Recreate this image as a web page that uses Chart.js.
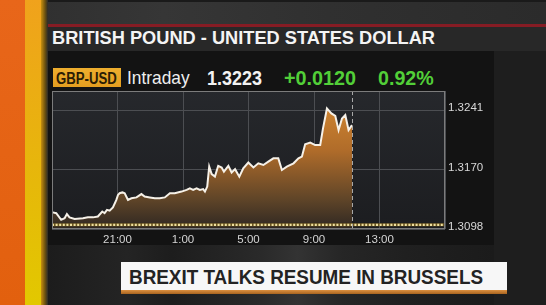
<!DOCTYPE html>
<html>
<head>
<meta charset="utf-8">
<script src="https://cdn.jsdelivr.net/npm/chart.js@4.4.1/dist/chart.umd.min.js"></script>
<style>
  html, body { margin:0; padding:0; }
  body { width:546px; height:305px; overflow:hidden; position:relative; background:#1b1b1b; font-family:"Liberation Sans", Arial, sans-serif; }
  .abs { position:absolute; }
  .txt { position:absolute; white-space:nowrap; line-height:1; transform-origin:0 0; }
  #chartWrap { position:absolute; left:0; top:0; width:546px; height:305px; z-index:5; }
</style>
</head>
<body>
<!-- backgrounds -->
<div class="abs" style="left:0;top:0;width:546px;height:25px;background:linear-gradient(90deg,#2e2e2e 0%,#363636 30%,#303030 60%,#2b2b2b 100%);"></div>
<div class="abs" style="left:0;top:0;width:546px;height:2px;background:#1a1a1a;"></div>
<div class="abs" style="left:47px;top:24px;width:499px;height:3px;background:#861c24;"></div>
<div class="abs" style="left:47px;top:27px;width:499px;height:24px;background:#282828;"></div>
<div class="abs" style="left:47px;top:51px;width:447px;height:194px;background:#131313;"></div>
<div class="abs" style="left:494px;top:51px;width:52px;height:254px;background:#1e1e1e;"></div>
<div class="abs" style="left:47px;top:245px;width:447px;height:60px;background:linear-gradient(90deg,#1c1c1c 0%,#242424 18%,#1d1d1d 28%,#2a2a2a 48%,#333 56%,#262626 66%,#202020 80%,#1b1b1b 100%);"></div>
<div class="abs" style="left:0;top:0;width:25px;height:305px;background:linear-gradient(180deg,#e8661a 0%,#e2600e 100%);"></div>
<div class="abs" style="left:25px;top:0;width:16px;height:305px;background:linear-gradient(180deg,#f0a21c 0%,#e6b80a 60%,#e2c800 100%);"></div>
<div class="abs" style="left:41px;top:0;width:7px;height:305px;background:linear-gradient(90deg,#c8900e 0%,#6a5010 60%,#2a2a2a 100%);"></div>

<!-- header texts -->
<div id="title" class="txt" data-w="383" style="left:51.5px;top:29.3px;font-size:18.5px;font-weight:bold;color:#f4f4f4;">BRITISH POUND - UNITED STATES DOLLAR</div>
<div class="abs" style="left:52.7px;top:68px;width:68.5px;height:18.7px;background:linear-gradient(180deg,#eeae2e,#e49e20);"></div>
<div id="badge" class="txt" data-w="60.7" style="left:56px;top:70.6px;font-size:16px;font-weight:bold;color:#2b1d05;">GBP-USD</div>
<div id="intra" class="txt" data-w="62.7" style="left:127.3px;top:69.3px;font-size:18.5px;color:#eeeeee;">Intraday</div>
<div id="last" class="txt" data-w="55" style="left:206.8px;top:69.2px;font-size:19.5px;font-weight:bold;color:#f2f2f2;">1.3223</div>
<div id="chg" class="txt" data-w="72" style="left:283.8px;top:69.2px;font-size:19.5px;font-weight:bold;color:#52cf38;">+0.0120</div>
<div id="pct" class="txt" data-w="55.7" style="left:377.8px;top:69.2px;font-size:19.5px;font-weight:bold;color:#52cf38;">0.92%</div>

<!-- headline -->
<div class="abs" style="left:121px;top:262px;width:386px;height:28px;background:#f7f7f7;"></div>
<div class="abs" style="left:121px;top:290px;width:386px;height:4px;background:linear-gradient(180deg,#dc9040,#a86420);"></div>
<div id="head" class="txt" data-w="354" style="left:129px;top:266.6px;font-size:20.5px;font-weight:bold;color:#232323;">BREXIT TALKS RESUME IN BRUSSELS</div>

<div id="chartWrap"><canvas id="c" width="546" height="305"></canvas></div>

<script>
// ---- data ----
const hoursSince1700 = [0.05,0.26,0.56,0.77,0.91,1.07,1.38,1.89,2.19,2.50,2.80,3.07,3.21,3.36,3.52,3.72,3.93,4.03,4.13,4.30,4.44,4.64,4.85,5.16,5.46,5.66,5.97,6.28,6.58,6.89,7.20,7.50,7.91,8.22,8.42,8.62,8.83,9.03,9.23,9.34,9.48,9.60,9.75,9.95,10.15,10.36,10.50,10.77,10.97,11.18,11.44,11.68,11.99,12.30,12.60,12.91,13.21,13.52,13.82,14.04,14.34,14.75,15.05,15.26,15.46,15.77,16.07,16.38,16.55,16.79,17.06,17.30,17.50,17.71,17.91,18.11,18.32];
const gbpUsd = [1.3118,1.3117,1.3109,1.3111,1.3116,1.3112,1.3110,1.3111,1.3112,1.3112,1.3113,1.3119,1.3117,1.3121,1.3120,1.3124,1.3133,1.3139,1.3141,1.3142,1.3141,1.3133,1.3135,1.3136,1.3140,1.3137,1.3136,1.3135,1.3135,1.3136,1.3141,1.3141,1.3143,1.3145,1.3147,1.3145,1.3147,1.3145,1.3146,1.3143,1.3149,1.3173,1.3164,1.3161,1.3174,1.3172,1.3167,1.3174,1.3166,1.3170,1.3161,1.3171,1.3178,1.3172,1.3177,1.3175,1.3179,1.3183,1.3183,1.3169,1.3173,1.3177,1.3183,1.3185,1.3200,1.3202,1.3199,1.3199,1.3219,1.3243,1.3237,1.3234,1.3217,1.3231,1.3235,1.3217,1.3223];
const previousClose = 1.3103;
const nowHour = 18.32;
const xGridHours = [0,4,8,12,16,20,24];
const xTickLabels = ['','21:00','1:00','5:00','9:00','13:00',''];
const yTickValues = [1.3098,1.31695,1.3241];
const yTickLabels = ['1.3098','1.3170','1.3241'];
const yMin = 1.3098, yMax = 1.3264;

// ---- fit header texts to measured widths ----
document.querySelectorAll('.txt').forEach(el => {
  const w = parseFloat(el.dataset.w);
  const m = el.getBoundingClientRect().width;
  if (w && m) el.style.transform = 'scaleX(' + (w / m) + ')';
});

Chart.defaults.font.family = '"Liberation Sans", Arial, sans-serif';

const areaBg = {
  id: 'areaBg',
  beforeDraw(chart) {
    const {ctx, chartArea: a} = chart;
    const g = ctx.createLinearGradient(0, a.top, 0, a.bottom);
    g.addColorStop(0, '#26282c');
    g.addColorStop(1, '#1c1d20');
    ctx.save();
    ctx.fillStyle = g;
    ctx.fillRect(a.left, a.top, a.right - a.left, a.bottom - a.top);
    ctx.restore();
  },
  afterDraw(chart) {
    const {ctx, chartArea: a, scales} = chart;
    ctx.save();
    // "now" dashed marker
    const x = Math.round(scales.x.getPixelForValue(nowHour)) + 0.5;
    ctx.strokeStyle = '#a8a8a8';
    ctx.lineWidth = 1;
    ctx.setLineDash([4, 3]);
    ctx.beginPath(); ctx.moveTo(x, a.top); ctx.lineTo(x, a.bottom); ctx.stroke();
    ctx.setLineDash([]);
    // box
    ctx.strokeStyle = '#7c7c7c';
    ctx.strokeRect(a.left + 0.5, a.top + 0.5, a.right - a.left - 1, a.bottom - a.top - 1);
    ctx.restore();
  }
};

const closeLine = [{x: xGridHours[0], y: previousClose}, {x: xGridHours[xGridHours.length - 1], y: previousClose}];

new Chart(document.getElementById('c'), {
  type: 'line',
  data: {
    datasets: [
      {
        data: hoursSince1700.map((h, i) => ({x: h, y: gbpUsd[i]})),
        borderColor: '#f6f1e8',
        borderWidth: 2,
        pointRadius: 0,
        tension: 0,
        fill: 'start',
        backgroundColor: (ctx) => {
          const a = ctx.chart.chartArea;
          if (!a) return 'rgba(0,0,0,0)';
          const g = ctx.chart.ctx.createLinearGradient(0, a.top, 0, a.bottom);
          g.addColorStop(0, '#d88c32');
          g.addColorStop(0.43, '#b06c2a');
          g.addColorStop(0.79, '#5e4428');
          g.addColorStop(1, '#2e2722');
          return g;
        }
      },
      {
        data: closeLine,
        borderColor: '#efe0a0',
        borderWidth: 2.2,
        borderDash: [2, 1.6],
        pointRadius: 0,
        fill: false
      },
      {
        data: closeLine,
        borderColor: '#6a5520',
        borderWidth: 3,
        pointRadius: 0,
        fill: false
      }
    ]
  },
  options: {
    responsive: false,
    animation: false,
    events: [],
    layout: { padding: { left: 52, top: 91, right: 0, bottom: 0 } },
    plugins: {
      legend: { display: false },
      tooltip: { enabled: false },
      filler: { drawTime: 'beforeDatasetsDraw' }
    },
    scales: {
      x: {
        type: 'linear',
        min: 0, max: 24,
        afterBuildTicks: (s) => { s.ticks = xGridHours.map(v => ({value: v})); },
        afterFit: (s) => { s.height = 76; },
        grid: { color: '#4c4e52', lineWidth: 1, drawTicks: false },
        border: { display: false },
        ticks: {
          padding: 4,
          color: '#d4d4d4',
          font: { size: 11.5 },
          maxRotation: 0,
          autoSkip: false,
          callback: (v, i) => xTickLabels[i]
        }
      },
      y: {
        position: 'right',
        min: yMin, max: yMax,
        afterBuildTicks: (s) => { s.ticks = yTickValues.map(v => ({value: v})); },
        afterFit: (s) => { s.width = 101; },
        grid: { color: '#4c4e52', lineWidth: 1, drawTicks: false },
        border: { display: false },
        ticks: {
          padding: 3,
          color: '#d8d8d8',
          font: { size: 11.5 },
          labelOffset: -2,
          callback: (v, i) => yTickLabels[i]
        }
      }
    }
  },
  plugins: [areaBg]
});
</script>
</body>
</html>
